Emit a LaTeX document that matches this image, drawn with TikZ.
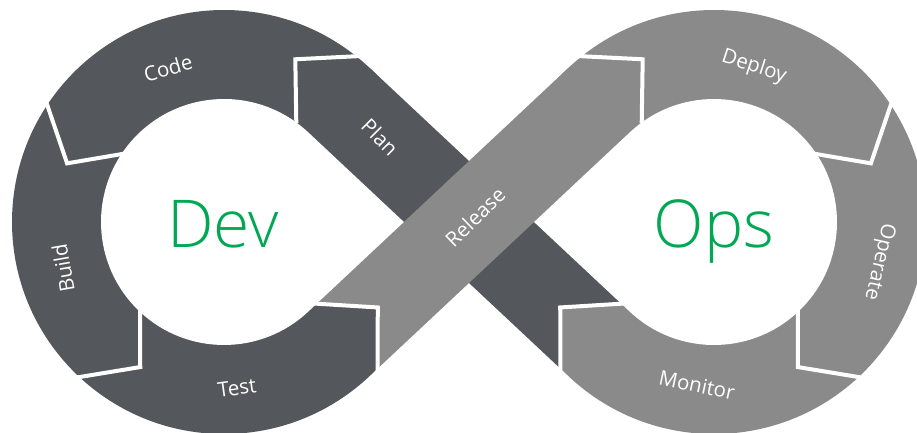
\documentclass[tikz,border=0pt]{standalone}
\usepackage{fontspec}
\setmainfont{Open Sans}
\newfontfamily\lightfont{Open Sans Light}
\usepackage{tikz}
\usetikzlibrary{positioning}
\definecolor{devgray}{RGB}{84,87,91}
\definecolor{opsgray}{RGB}{138,138,138}
\definecolor{devopsgreen}{RGB}{0,168,84}

\begin{document}
\begin{tikzpicture}[x=1pt,y=1pt,
  gap/.style={white,line width=4pt,line join=miter,line cap=rect},
  stage/.style={white,font=\fontsize{20.5}{20.5}\selectfont,inner sep=0pt},
  side/.style={devopsgreen,font=\lightfont\fontsize{66}{66}\selectfont,inner sep=0pt,anchor=base}]
\useasboundingbox (0,0) rectangle (917,432);
% the two rings
\fill[opsgray] (714,210) circle (212);
\fill[devgray] (224,210) circle (212);
% crossing bands, Release on top
\fill[devgray] (368.93,364.73) -- (308.09,299.77) -- (560.46,63.34) -- (560.23,124.54) -- (621.30,128.30) -- cycle;
\fill[opsgray] (316.70,128.30) -- (377.78,124.54) -- (377.54,63.34) -- (629.91,299.77) -- (569.07,364.73) -- cycle;
% holes
\fill[white] (403.9,210) -- (308.09,299.77) arc[start angle=46.87,end angle=313.13,radius=123] -- cycle;
\fill[white] (534.1,210) -- (629.91,120.23) arc[start angle=226.87,end angle=493.13,radius=123] -- cycle;
% gaps between the stages
\draw[gap] (357.11,375.80) -- (295.31,372.72) -- (296.27,310.84);
\draw[gap] (316.70,128.30) -- (377.78,124.54) -- (377.54,63.34);
\draw[gap] (580.89,375.80) -- (642.69,372.72) -- (641.73,310.84);
\draw[gap] (621.30,128.30) -- (560.23,124.54) -- (560.46,63.34);
\begin{scope}[shift={(224,210)}]
\draw[gap] (146.5:212) -- (159.5:167.5) -- (146.5:123);
\draw[gap] (227:212) -- (240:167.5) -- (227:123);
\end{scope}
\begin{scope}[shift={(714,210)}]
\draw[gap] (33.5:212) -- (20.5:167.5) -- (33.5:123);
\draw[gap] (-47:212) -- (-60:167.5) -- (-47:123);
\end{scope}
% labels
\node[stage,rotate=16] (code) at (168,364) {Code};
\node[stage,rotate=-45] (plan) at (380,295) {Plan};
\node[stage,rotate=100] (build) at (63,164) {Build};
\node[stage,rotate=8] (test) at (237,44) {Test};
\node[stage,rotate=44] (release) at (475,215) {Release};
\node[stage,rotate=-18] (deploy) at (754,365) {Deploy};
\node[stage,rotate=-103] (operate) at (879,170) {Operate};
\node[stage,rotate=-12] (monitor) at (697,47) {Monitor};
\node[side] (dev) at (223,185) {Dev};
\node[side] (ops) at (714,185) {Ops};
\end{tikzpicture}
\end{document}
